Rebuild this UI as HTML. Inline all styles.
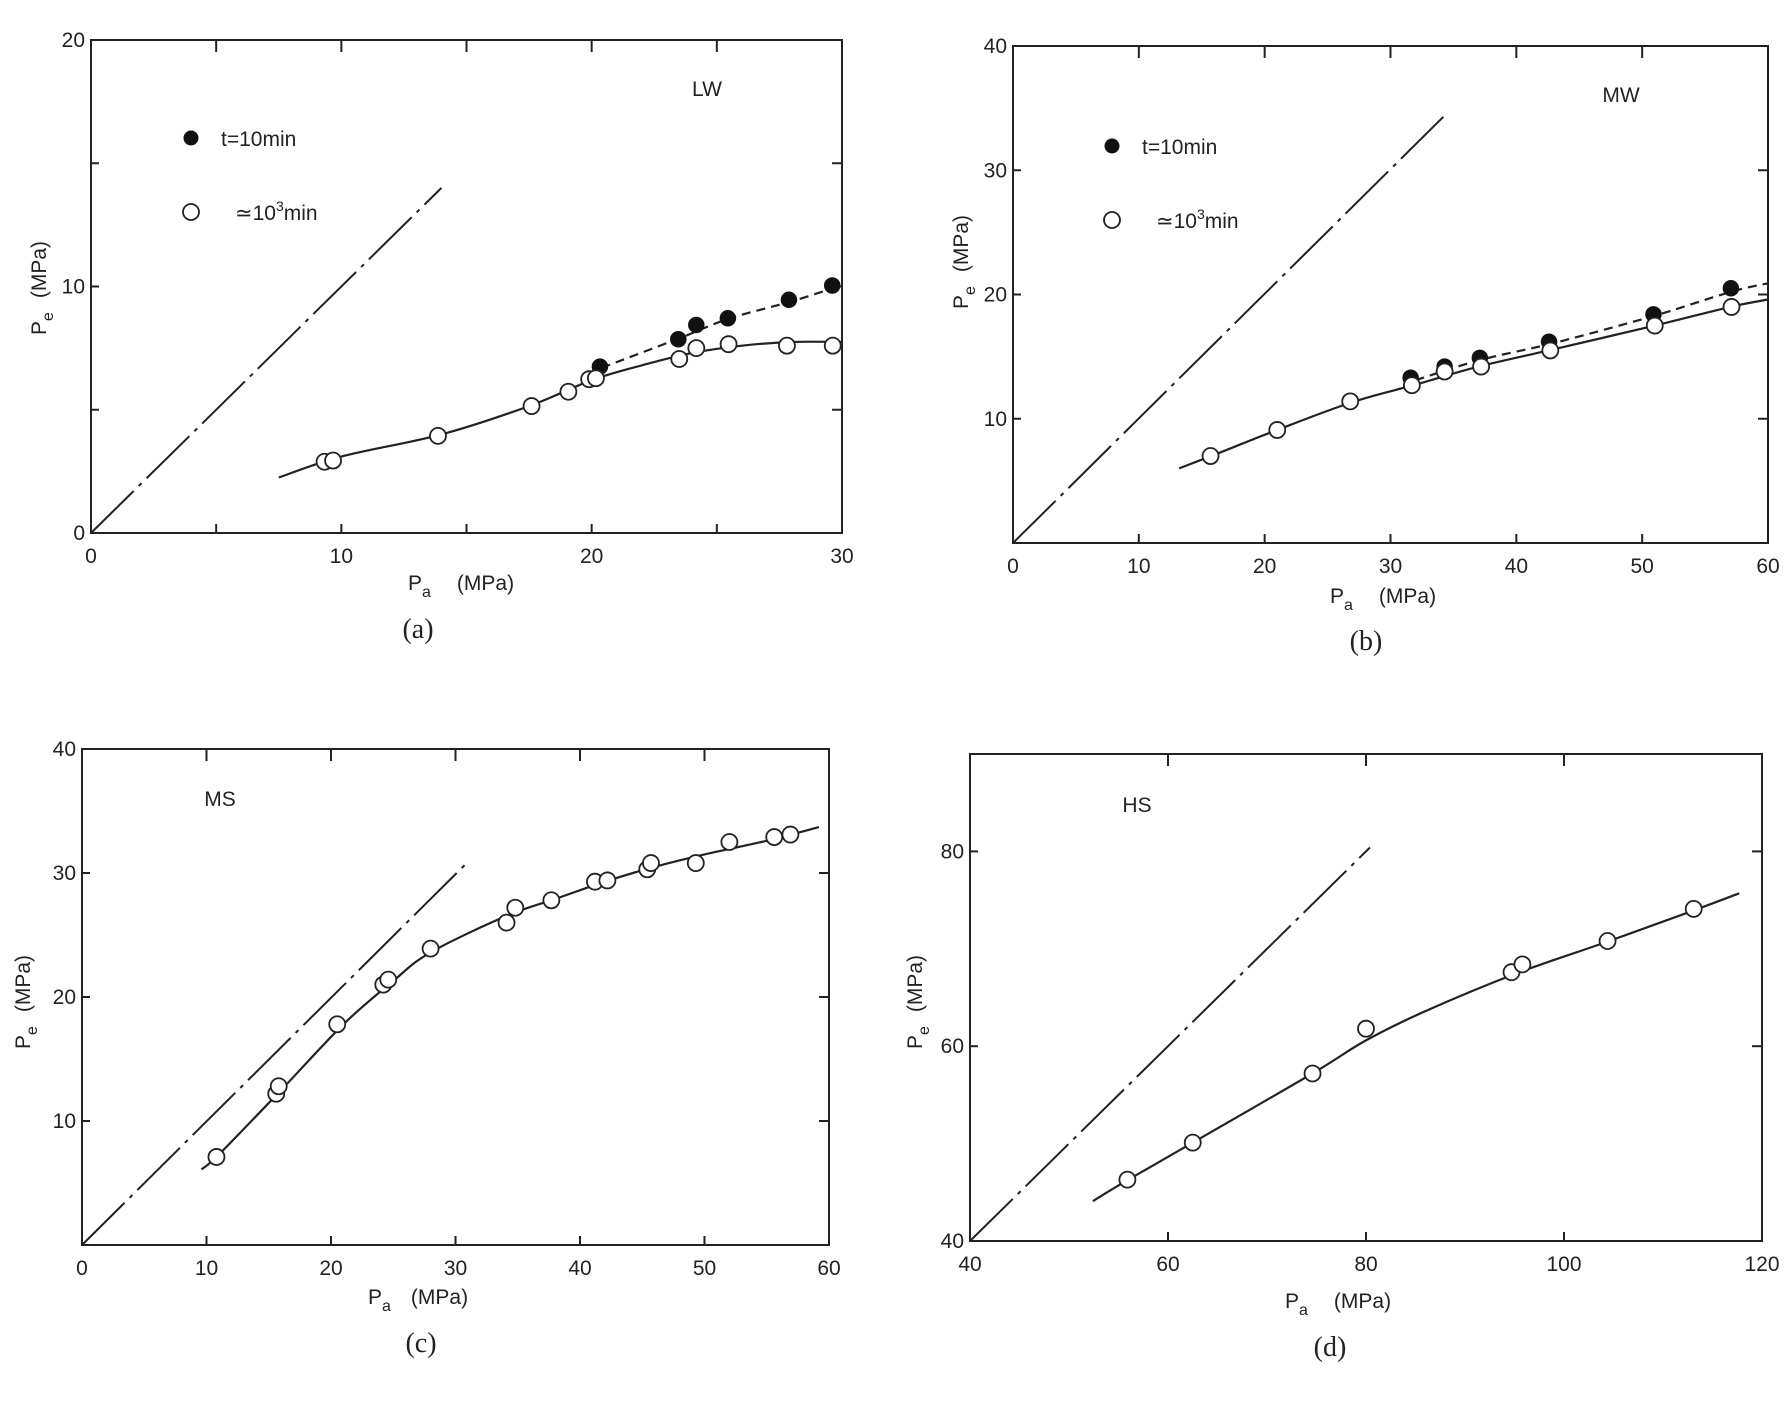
<!DOCTYPE html>
<html><head><meta charset="utf-8"><style>
html,body{margin:0;padding:0;background:#fff;}
svg{display:block;font-family:"Liberation Sans Narrow","Liberation Sans",sans-serif;}
.tk{font-size:21px;fill:#222;}
.lab{font-size:21px;fill:#222;}
.cap{font-family:"Liberation Serif",serif;font-size:28px;fill:#222;}
</style></head><body>
<svg id="fig" width="1785" height="1410" viewBox="0 0 1785 1410" xmlns="http://www.w3.org/2000/svg"></svg>
<script>
// ---- Panel (a) LW ----
const aOpen = [[9.33,2.89],[9.67,2.94],[13.86,3.94],[17.6,5.15],[19.07,5.73],[19.9,6.24],[20.17,6.28],[23.5,7.06],[24.18,7.5],[25.47,7.66],[27.8,7.6],[29.63,7.6]];
const aFilled = [[20.33,6.75],[23.46,7.86],[24.18,8.44],[25.44,8.71],[27.88,9.46],[29.61,10.04]];
const aSolid = [[7.5,2.25],[10,3.1],[14,4.0],[17.5,5.15],[20,6.2],[22,6.8],[24,7.3],[26,7.6],[28,7.75],[30,7.75]];
const aDashed = [[20.4,6.7],[23.5,7.9],[25.5,8.7],[28,9.4],[30,10.05]];
const aRef = [[0,0],[14,14]];
const aXTicks = [0,10,20,30];
const aYTicks = [0,10,20];
// ---- Panel (b) MW ----
const bOpen = [[15.7,7.0],[21.0,9.1],[26.8,11.4],[31.7,12.7],[34.3,13.8],[37.2,14.2],[42.7,15.5],[51.0,17.5],[57.1,19.0]];
const bFilled = [[31.6,13.3],[34.3,14.2],[37.1,14.9],[42.6,16.2],[50.9,18.4],[57.05,20.5]];
const bSolid = [[13.2,6.0],[16,7.1],[21,9.1],[27,11.35],[32,12.75],[37,14.2],[43,15.6],[51,17.5],[57,19.0],[60,19.6]];
const bDashed = [[32,13.1],[37,14.7],[43,16.1],[51,18.3],[57,20.2],[60,20.9]];
const bRef = [[0,0],[34.2,34.3]];
const bXTicks = [0,10,20,30,40,50,60];
const bYTicks = [10,20,30,40];
// ---- Panel (c) MS ----
const cOpen = [[10.8,7.1],[15.6,12.2],[15.8,12.8],[20.5,17.8],[24.2,21.0],[24.6,21.4],[28.0,23.9],[34.1,26.0],[34.8,27.2],[37.7,27.8],[41.2,29.3],[42.2,29.4],[45.4,30.3],[45.7,30.8],[49.3,30.8],[52.0,32.5],[55.6,32.9],[56.9,33.1]];
const cSolid = [[9.6,6.1],[11,7.3],[16,12.5],[21,17.8],[25,21.3],[28,23.6],[34,26.5],[38,27.9],[42,29.3],[46,30.5],[50,31.5],[55,32.6],[59.2,33.7]];
const cRef = [[0,0],[31.0,30.9]];
const cXTicks = [0,10,20,30,40,50,60];
const cYTicks = [10,20,30,40];
// ---- Panel (d) HS ----
const dOpen = [[55.9,46.3],[62.5,50.1],[74.6,57.2],[80.0,61.8],[94.7,67.6],[95.8,68.4],[104.4,70.8],[113.1,74.1]];
const dSolid = [[52.4,44.1],[56,46.3],[62.5,50.1],[74.6,57.2],[80,60.6],[86,63.6],[95,67.4],[104,70.6],[113,73.9],[117.7,75.7]];
const dRef = [[40,40],[80.4,80.4]];
const dXTicks = [40,60,80,100,120];
const dYTicks = [40,60,80];

const NS="http://www.w3.org/2000/svg";
const svg=document.getElementById('fig');
function mk(tag,attrs,parent){const e=document.createElementNS(NS,tag);for(const k in attrs)e.setAttribute(k,attrs[k]);(parent||svg).appendChild(e);return e;}
function txt(parent,x,y,s,cls,anchor){const t=mk('text',{x:x,y:y,class:cls,'text-anchor':anchor||'start'},parent);t.textContent=s;return t;}

function catmull(pts){
  let d='M'+pts[0][0].toFixed(1)+','+pts[0][1].toFixed(1);
  for(let i=0;i<pts.length-1;i++){
    const p0=pts[Math.max(0,i-1)],p1=pts[i],p2=pts[i+1],p3=pts[Math.min(pts.length-1,i+2)];
    const c1=[p1[0]+(p2[0]-p0[0])/6,p1[1]+(p2[1]-p0[1])/6];
    const c2=[p2[0]-(p3[0]-p1[0])/6,p2[1]-(p3[1]-p1[1])/6];
    d+=' C'+c1[0].toFixed(1)+','+c1[1].toFixed(1)+' '+c2[0].toFixed(1)+','+c2[1].toFixed(1)+' '+p2[0].toFixed(1)+','+p2[1].toFixed(1);
  }
  return d;
}

function panel(cfg){
  const g=mk('g',{});
  
  
  const X=v=>cfg.L+(v-cfg.x0)/(cfg.x1-cfg.x0)*(cfg.R-cfg.L);
  const Y=v=>cfg.B-(v-cfg.y0)/(cfg.y1-cfg.y0)*(cfg.B-cfg.T);
  const fr=mk('rect',{x:cfg.L,y:cfg.T,width:cfg.R-cfg.L,height:cfg.B-cfg.T,fill:'none',stroke:'#222','stroke-width':2},g);
  
  
  // minor/major ticks
  for(let v=cfg.x0;v<=cfg.x1+1e-9;v+=cfg.xStep){
    const x=X(v);
    const t1=mk('line',{x1:x,y1:cfg.B,x2:x,y2:cfg.B-9,stroke:'#222','stroke-width':2},g);
    
    
    const t2=mk('line',{x1:x,y1:cfg.T,x2:x,y2:cfg.T+12,stroke:'#222','stroke-width':2},g);
    
    
  }
  for(let v=cfg.y0;v<=cfg.y1+1e-9;v+=cfg.yStep){
    const y=Y(v);
    const t1=mk('line',{x1:cfg.L,y1:y,x2:cfg.L+8,y2:y,stroke:'#222','stroke-width':2},g);
    
    
    const t2=mk('line',{x1:cfg.R,y1:y,x2:cfg.R-10,y2:y,stroke:'#222','stroke-width':2},g);
    
    
  }
  cfg.xt.forEach(v=>{
    const t=txt(g,X(v),cfg.B+30,String(v),'tk','middle');
    
    
  });
  cfg.yt.forEach(v=>{
    const t=txt(g,cfg.L-6,Y(v)+7,String(v),'tk','end');
    
    
  });
  // reference line
  const r=mk('line',{x1:X(cfg.ref[0][0]),y1:Y(cfg.ref[0][1]),x2:X(cfg.ref[1][0]),y2:Y(cfg.ref[1][1]),stroke:'#222','stroke-width':2,'stroke-dasharray':'60 7 4 7'},g);
  
  
  const map=a=>a.map(p=>[X(p[0]),Y(p[1])]);
  const s=mk('path',{d:catmull(map(cfg.solid)),fill:'none',stroke:'#222','stroke-width':2.2},g);
  
  
  if(cfg.dashed){
    const d=mk('path',{d:catmull(map(cfg.dashed)),fill:'none',stroke:'#222','stroke-width':2.2,'stroke-dasharray':'9 6'},g);
    
    
  }
  (cfg.filled||[]).forEach(p=>{
    const c=mk('circle',{cx:X(p[0]),cy:Y(p[1]),r:7.5,fill:'#111',stroke:'#111','stroke-width':1.5},g);
    
    
  });
  cfg.open.forEach(p=>{
    const c=mk('circle',{cx:X(p[0]),cy:Y(p[1]),r:8,fill:'#fff',stroke:'#222','stroke-width':1.8},g);
    
    
  });
  // labels
  const n=txt(g,cfg.nameX,cfg.nameY,cfg.name,'lab','middle');
  
  
  const xl=mk('text',{x:cfg.xlX,y:cfg.xlY,class:'lab'},g);
  
  
  xl.innerHTML='P<tspan dy="7" font-size="16">a</tspan><tspan dy="-7" dx="'+cfg.xlGap+'">(MPa)</tspan>';
  const yl=mk('text',{x:0,y:0,class:'lab','text-anchor':'middle',transform:'translate('+cfg.ylX+','+cfg.ylY+') rotate(-90)'},g);
  
  
  yl.innerHTML='P<tspan dy="7" font-size="16">e</tspan><tspan dy="-7" dx="'+cfg.ylGap+'">(MPa)</tspan>';
  const cp=txt(g,cfg.capX,cfg.capY,cfg.cap,'cap','middle');
  
  
  if(cfg.leg){
    const lg=mk('g',{},g);
    
    
    const c1=mk('circle',{cx:cfg.leg[0],cy:cfg.leg[1],r:7.5,fill:'#111'},lg);
    
    
    const t1=txt(lg,cfg.leg[0]+30,cfg.leg[1]+8,'t=10min','lab');
    
    
    const c2=mk('circle',{cx:cfg.leg[0],cy:cfg.leg[2],r:8,fill:'#fff',stroke:'#222','stroke-width':1.8},lg);
    
    
    const t2=mk('text',{x:cfg.leg[0]+44,y:cfg.leg[2]+8,class:'lab'},lg);
    
    
    t2.innerHTML='≃10<tspan dy="-9" font-size="14">3</tspan><tspan dy="9">min</tspan>';
  }
}

panel({id:'a',L:91,R:842,T:40,B:533,x0:0,x1:30,y0:0,y1:20,xStep:5,yStep:5,xt:aXTicks,yt:aYTicks,
  ref:aRef,solid:aSolid,dashed:aDashed,open:aOpen,filled:aFilled,name:'LW',nameX:707,nameY:96,
  xlX:408,xlY:590,xlGap:26,ylX:46,ylY:288,ylGap:14,cap:'(a)',capX:418,capY:638,leg:[191,138,212]});
panel({id:'b',L:1013,R:1768,T:46,B:543,x0:0,x1:60,y0:0,y1:40,xStep:10,yStep:10,xt:bXTicks,yt:bYTicks,
  ref:bRef,solid:bSolid,dashed:bDashed,open:bOpen,filled:bFilled,name:'MW',nameX:1621,nameY:102,
  xlX:1330,xlY:603,xlGap:26,ylX:968,ylY:262,ylGap:14,cap:'(b)',capX:1366,capY:650,leg:[1112,146,220]});
panel({id:'c',L:82,R:829,T:749,B:1245,x0:0,x1:60,y0:0,y1:40,xStep:10,yStep:10,xt:cXTicks,yt:cYTicks,
  ref:cRef,solid:cSolid,open:cOpen,name:'MS',nameX:220,nameY:806,
  xlX:368,xlY:1304,xlGap:20,ylX:30,ylY:1002,ylGap:14,cap:'(c)',capX:421,capY:1352});
panel({id:'d',L:970,R:1762,T:754,B:1241,x0:40,x1:120,y0:40,y1:90,xStep:20,yStep:20,xt:dXTicks,yt:dYTicks,
  ref:dRef,solid:dSolid,open:dOpen,name:'HS',nameX:1137,nameY:812,
  xlX:1285,xlY:1308,xlGap:26,ylX:922,ylY:1002,ylGap:14,cap:'(d)',capX:1330,capY:1356});
</script>
</body></html>
